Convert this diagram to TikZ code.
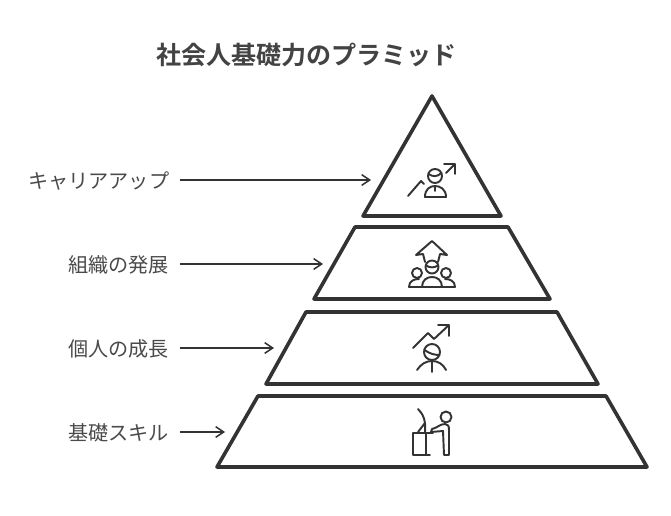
\documentclass[tikz,border=0pt]{standalone}
\usepackage{fontspec}
\setmainfont{Noto Sans CJK JP}
\newfontfamily\titlefont[BoldFont={Noto Sans CJK JP Bold}]{Noto Sans CJK JP}
\usetikzlibrary{arrows.meta}
\definecolor{ink}{HTML}{333333}
\definecolor{txt}{HTML}{4A4A4A}
\tikzset{
  tier/.style={draw=ink,line width=2.7pt,line join=round,fill=white},
  icon/.style={draw=ink,line width=1.45pt,line cap=round,line join=round},
  lab/.style={anchor=east,text=txt,font=\fontsize{15.1pt}{17pt}\selectfont,inner sep=0pt},
  conn/.style={draw=ink,line width=1.3pt,-{Straight Barb[length=6pt,width=8pt,line width=1.1pt]}}
}
\begin{document}
\begin{tikzpicture}[x=0.75pt,y=-0.75pt]
\useasboundingbox (0,0) rectangle (671,516);
\fill[white] (0,0) rectangle (671,516);
\node[font=\titlefont\bfseries\fontsize{18.8pt}{21pt}\selectfont,text=txt!90!black,inner sep=0pt] (title) at (306.5,55) {社会人基礎力のプラミッド};
% tiers
\draw[tier] (432,96) -- (501,216) -- (363,216) -- cycle;
\draw[tier] (355,227) -- (508,227) -- (550,299) -- (314,299) -- cycle;
\draw[tier] (306,312) -- (557,312) -- (598,384) -- (266,384) -- cycle;
\draw[tier] (258,396) -- (606,396) -- (647,467) -- (217,467) -- cycle;
% labels and connectors
\node[lab] (l1) at (169.5,181) {キャリアアップ};
\node[lab] (l2) at (169,265) {組織の発展};
\node[lab] (l3) at (169,349) {個人の成長};
\node[lab] (l4) at (169,433) {基礎スキル};
\coordinate (s1) at (180,180);
\coordinate (s2) at (180,264);
\coordinate (s3) at (180,348);
\coordinate (s4) at (180,432);
\coordinate (t1) at (371,180);
\coordinate (t2) at (323,264);
\coordinate (t3) at (274,348);
\coordinate (t4) at (225,432);
\draw[conn] (s1) -- (t1);
\draw[conn] (s2) -- (t2);
\draw[conn] (s3) -- (t3);
\draw[conn] (s4) -- (t4);
% icon 1
\draw[icon] (408,196) -- (421,181) -- (424,184);
\draw[icon] (446,173) -- (455,164) (444,164) -- (455,164) -- (455,174);
\draw[icon] (435,176) circle (7);
\draw[icon] (428.5,174) .. controls (433,177) and (437,177) .. (441.5,173);
\draw[icon] (425,197) .. controls (425,189) and (430,186) .. (435,186) .. controls (440,186) and (446,189) .. (446,197) -- cycle;
\draw[icon] (435,186) -- (435,191);
% icon 2
\draw[icon] (425,262) -- (423,254) -- (416,255) -- (432,241) -- (447,255) -- (440,254) -- (438,262);
\draw[icon] (432,267) circle (6.5);
\draw[icon] (426,265.5) .. controls (430,268) and (434,268) .. (438,265.5);
\draw[icon] (417,273) circle (5);
\draw[icon] (446,273) circle (5);
\draw[icon] (409,287) .. controls (409,281) and (414,279) .. (419,279);
\draw[icon] (455,287) .. controls (455,281) and (450,279) .. (445,279);
\draw[icon] (422,287) .. controls (422,280) and (427,277) .. (432,277) .. controls (437,277) and (442,280) .. (442,287);
\draw[icon] (409,287) -- (455,287);
% icon 3
\draw[icon] (413,348) -- (428,333) -- (434,339) -- (449,325) (438,325) -- (449,325) -- (449,336);
\draw[icon] (432,352) circle (8);
\draw[icon] (424.5,350) .. controls (430,354) and (435,355) .. (439.5,355);
\draw[icon] (417,370) .. controls (421,364) and (426,361) .. (432,361) .. controls (438,361) and (443,364) .. (446,370);
\draw[icon] (432,361) -- (432,372);
% icon 4
\draw[icon] (430,455) -- (413,455) -- (413,433) -- (433,433);
\draw[icon] (426,433) -- (426,455);
\draw[icon] (418,409) .. controls (423,414) and (426,420) .. (425,432);
\draw[icon] (425,423) -- (418,432);
\draw[icon] (446,417) circle (5.5);
\draw[icon] (431,432) -- (432,429) .. controls (437,428) and (440,424) .. (445,424) .. controls (448,424) and (449,426) .. (449,430) -- (449,455) -- (444,455) -- (443,431) -- cycle;
\end{tikzpicture}
\end{document}
